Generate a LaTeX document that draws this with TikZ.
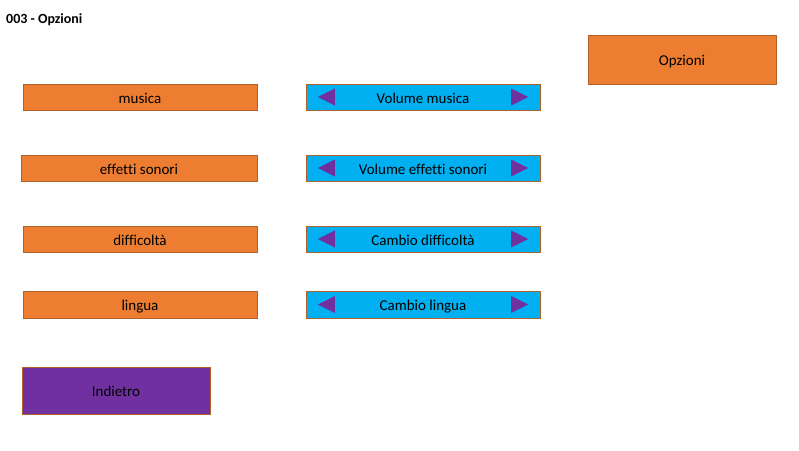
\documentclass[tikz,border=0pt]{standalone}
\usepackage{fontspec}
\setmainfont{Carlito}[Ligatures=NoCommon]
\definecolor{orangebox}{HTML}{ED7D31}
\definecolor{orangeline}{HTML}{B0602A}
\definecolor{bluebox}{HTML}{00B0F0}
\definecolor{purplebox}{HTML}{7030A0}
\tikzset{
  button/.style={draw=orangeline,fill=orangebox,minimum width=234,minimum height=26,
    inner sep=0,text height=13,text depth=1,font=\fontsize{15}{17}\selectfont},
  slider/.style={button,fill=bluebox},
  back/.style={button,fill=purplebox,minimum width=188,minimum height=47},
  arrowtip/.style={fill=purplebox}
}
\begin{document}
\begin{tikzpicture}[x=1pt,y=-1pt]
  \useasboundingbox (0,0) rectangle (799,450);
  \node[anchor=base west,inner sep=0,font=\bfseries\fontsize{14}{16}\selectfont] (title) at (6,23) {003 - Opzioni};
  \node[button,minimum width=188,minimum height=49] (opzioni) at (682,59.5) {Opzioni};
  \node[button] (musica) at (140,97) {musica};
  \node[button,minimum width=236] (effetti) at (139,168) {effetti sonori};
  \node[button] (difficolta) at (140,239) {difficoltà};
  \node[button,minimum height=27] (lingua) at (140,304.5) {lingua};
  \node[back] (indietro) at (116,390.5) {Indietro};
  \node[slider] (volmusica) at (423,97) {Volume musica};
  \node[slider] (voleffetti) at (423,168) {Volume effetti sonori};
  \node[slider] (cambiodiff) at (423,239) {Cambio difficoltà};
  \node[slider,minimum height=27] (cambiolingua) at (423,304.5) {Cambio lingua};
  % frecce
  \fill[arrowtip] ([xshift=12]volmusica.west) -- ++(17,-8.5) -- ++(0,17) -- cycle;
  \fill[arrowtip] ([xshift=-12]volmusica.east) -- ++(-17,-8.5) -- ++(0,17) -- cycle;
  \fill[arrowtip] ([xshift=12]voleffetti.west) -- ++(17,-8.5) -- ++(0,17) -- cycle;
  \fill[arrowtip] ([xshift=-12]voleffetti.east) -- ++(-17,-8.5) -- ++(0,17) -- cycle;
  \fill[arrowtip] ([xshift=12]cambiodiff.west) -- ++(17,-8.5) -- ++(0,17) -- cycle;
  \fill[arrowtip] ([xshift=-12]cambiodiff.east) -- ++(-17,-8.5) -- ++(0,17) -- cycle;
  \fill[arrowtip] ([xshift=12]cambiolingua.west) -- ++(17,-8.5) -- ++(0,17) -- cycle;
  \fill[arrowtip] ([xshift=-12]cambiolingua.east) -- ++(-17,-8.5) -- ++(0,17) -- cycle;
\end{tikzpicture}
\end{document}
